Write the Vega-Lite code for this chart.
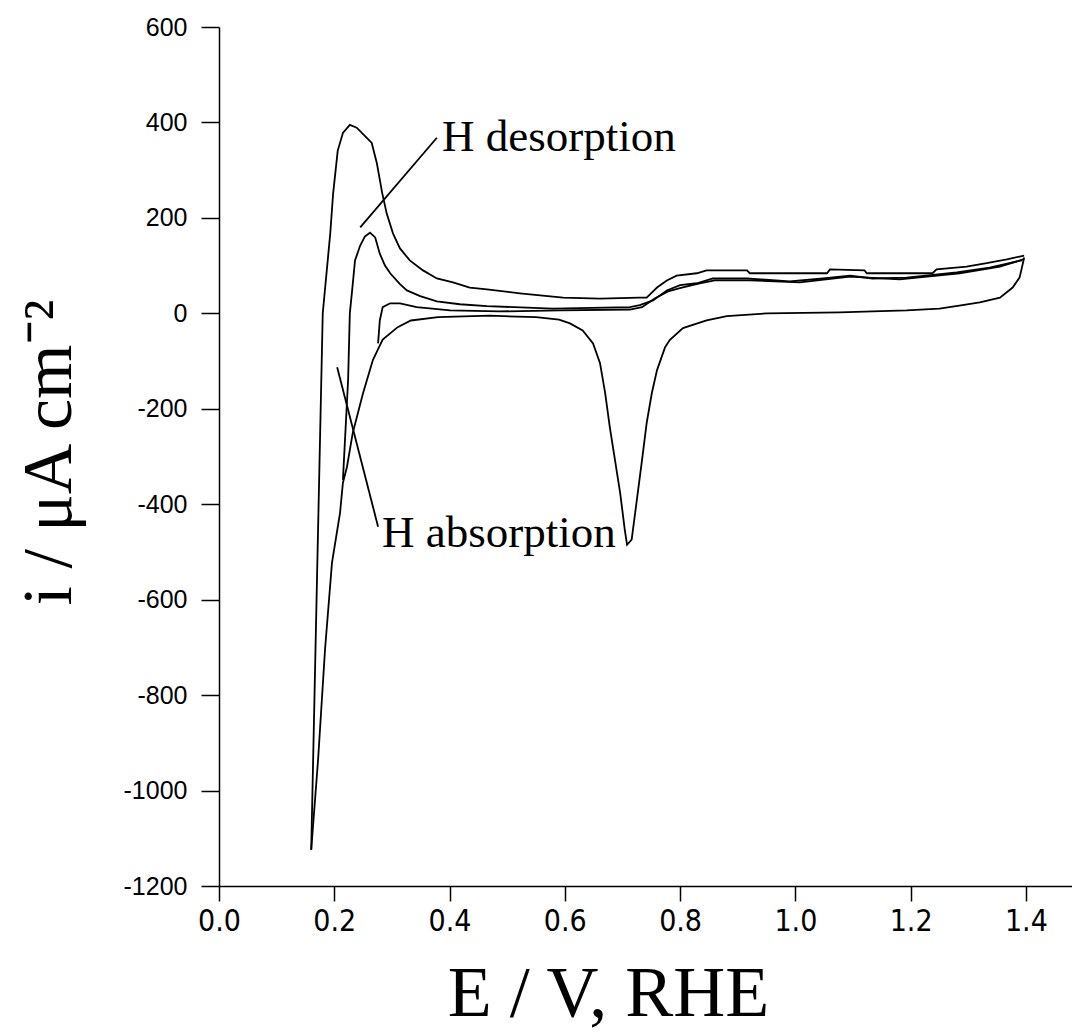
{
  "$schema": "https://vega.github.io/schema/vega-lite/v6.json",
  "width": 853,
  "height": 859,
  "autosize": "none",
  "padding": {"left": 219, "top": 27, "right": 0, "bottom": 147},
  "background": "white",
  "config": {"view": {"stroke": null}},
  "datasets": {
    "cv": [
      {"s": "cath", "i": 0, "E": 1.397, "j": 117},
      {"s": "cath", "i": 1, "E": 1.392, "j": 90},
      {"s": "cath", "i": 2, "E": 1.389, "j": 75},
      {"s": "cath", "i": 3, "E": 1.377, "j": 54},
      {"s": "cath", "i": 4, "E": 1.355, "j": 33},
      {"s": "cath", "i": 5, "E": 1.32, "j": 23},
      {"s": "cath", "i": 6, "E": 1.29, "j": 17},
      {"s": "cath", "i": 7, "E": 1.25, "j": 10},
      {"s": "cath", "i": 8, "E": 1.193, "j": 6},
      {"s": "cath", "i": 9, "E": 1.134, "j": 4},
      {"s": "cath", "i": 10, "E": 1.077, "j": 2},
      {"s": "cath", "i": 11, "E": 0.951, "j": 0},
      {"s": "cath", "i": 12, "E": 0.881, "j": -6},
      {"s": "cath", "i": 13, "E": 0.846, "j": -15},
      {"s": "cath", "i": 14, "E": 0.805, "j": -31},
      {"s": "cath", "i": 15, "E": 0.782, "j": -56},
      {"s": "cath", "i": 16, "E": 0.774, "j": -71},
      {"s": "cath", "i": 17, "E": 0.76, "j": -119},
      {"s": "cath", "i": 18, "E": 0.751, "j": -167},
      {"s": "cath", "i": 19, "E": 0.742, "j": -230},
      {"s": "cath", "i": 20, "E": 0.734, "j": -307},
      {"s": "cath", "i": 21, "E": 0.725, "j": -391},
      {"s": "cath", "i": 22, "E": 0.716, "j": -474},
      {"s": "cath", "i": 23, "E": 0.708, "j": -485},
      {"s": "cath", "i": 24, "E": 0.704, "j": -453},
      {"s": "cath", "i": 25, "E": 0.696, "j": -376},
      {"s": "cath", "i": 26, "E": 0.687, "j": -307},
      {"s": "cath", "i": 27, "E": 0.678, "j": -238},
      {"s": "cath", "i": 28, "E": 0.67, "j": -167},
      {"s": "cath", "i": 29, "E": 0.661, "j": -104},
      {"s": "cath", "i": 30, "E": 0.649, "j": -63},
      {"s": "cath", "i": 31, "E": 0.631, "j": -36},
      {"s": "cath", "i": 32, "E": 0.609, "j": -21},
      {"s": "cath", "i": 33, "E": 0.59, "j": -13},
      {"s": "cath", "i": 34, "E": 0.55, "j": -8},
      {"s": "cath", "i": 35, "E": 0.47, "j": -5},
      {"s": "cath", "i": 36, "E": 0.38, "j": -8},
      {"s": "cath", "i": 37, "E": 0.333, "j": -15},
      {"s": "cath", "i": 38, "E": 0.31, "j": -29},
      {"s": "cath", "i": 39, "E": 0.284, "j": -55},
      {"s": "cath", "i": 40, "E": 0.276, "j": -75},
      {"s": "cath", "i": 41, "E": 0.267, "j": -98},
      {"s": "cath", "i": 42, "E": 0.25, "j": -167},
      {"s": "cath", "i": 43, "E": 0.232, "j": -251},
      {"s": "cath", "i": 44, "E": 0.222, "j": -322},
      {"s": "cath", "i": 45, "E": 0.215, "j": -355},
      {"s": "cath", "i": 46, "E": 0.21, "j": -418},
      {"s": "cath", "i": 47, "E": 0.196, "j": -523},
      {"s": "cath", "i": 48, "E": 0.184, "j": -704},
      {"s": "cath", "i": 49, "E": 0.172, "j": -934},
      {"s": "cath", "i": 50, "E": 0.16, "j": -1124},

      {"s": "A", "i": 0, "E": 0.16, "j": -1124},
      {"s": "A", "i": 1, "E": 0.17, "j": -558},
      {"s": "A", "i": 2, "E": 0.18, "j": 0},
      {"s": "A", "i": 3, "E": 0.193, "j": 167},
      {"s": "A", "i": 4, "E": 0.198, "j": 251},
      {"s": "A", "i": 5, "E": 0.206, "j": 341},
      {"s": "A", "i": 6, "E": 0.215, "j": 378},
      {"s": "A", "i": 7, "E": 0.227, "j": 395},
      {"s": "A", "i": 8, "E": 0.239, "j": 389},
      {"s": "A", "i": 9, "E": 0.253, "j": 372},
      {"s": "A", "i": 10, "E": 0.265, "j": 357},
      {"s": "A", "i": 11, "E": 0.274, "j": 314},
      {"s": "A", "i": 12, "E": 0.283, "j": 253},
      {"s": "A", "i": 13, "E": 0.291, "j": 209},
      {"s": "A", "i": 14, "E": 0.302, "j": 167},
      {"s": "A", "i": 15, "E": 0.314, "j": 136},
      {"s": "A", "i": 16, "E": 0.331, "j": 111},
      {"s": "A", "i": 17, "E": 0.354, "j": 90},
      {"s": "A", "i": 18, "E": 0.378, "j": 73},
      {"s": "A", "i": 19, "E": 0.406, "j": 65},
      {"s": "A", "i": 20, "E": 0.435, "j": 54},
      {"s": "A", "i": 21, "E": 0.465, "j": 50},
      {"s": "A", "i": 22, "E": 0.522, "j": 42},
      {"s": "A", "i": 23, "E": 0.597, "j": 33},
      {"s": "A", "i": 24, "E": 0.661, "j": 31},
      {"s": "A", "i": 25, "E": 0.73, "j": 33},
      {"s": "A", "i": 26, "E": 0.742, "j": 33},
      {"s": "A", "i": 27, "E": 0.76, "j": 54},
      {"s": "A", "i": 28, "E": 0.777, "j": 69},
      {"s": "A", "i": 29, "E": 0.794, "j": 79},
      {"s": "A", "i": 30, "E": 0.829, "j": 84},
      {"s": "A", "i": 31, "E": 0.846, "j": 90},
      {"s": "A", "i": 32, "E": 0.916, "j": 90},
      {"s": "A", "i": 33, "E": 0.921, "j": 84},
      {"s": "A", "i": 34, "E": 1.055, "j": 84},
      {"s": "A", "i": 35, "E": 1.06, "j": 92},
      {"s": "A", "i": 36, "E": 1.12, "j": 90},
      {"s": "A", "i": 37, "E": 1.124, "j": 84},
      {"s": "A", "i": 38, "E": 1.238, "j": 84},
      {"s": "A", "i": 39, "E": 1.245, "j": 92},
      {"s": "A", "i": 40, "E": 1.297, "j": 98},
      {"s": "A", "i": 41, "E": 1.332, "j": 105},
      {"s": "A", "i": 42, "E": 1.367, "j": 113},
      {"s": "A", "i": 43, "E": 1.397, "j": 121},

      {"s": "B", "i": 0, "E": 0.215, "j": -349},
      {"s": "B", "i": 1, "E": 0.224, "j": -140},
      {"s": "B", "i": 2, "E": 0.227, "j": 0},
      {"s": "B", "i": 3, "E": 0.231, "j": 48},
      {"s": "B", "i": 4, "E": 0.236, "j": 111},
      {"s": "B", "i": 5, "E": 0.245, "j": 142},
      {"s": "B", "i": 6, "E": 0.253, "j": 161},
      {"s": "B", "i": 7, "E": 0.262, "j": 169},
      {"s": "B", "i": 8, "E": 0.271, "j": 159},
      {"s": "B", "i": 9, "E": 0.279, "j": 125},
      {"s": "B", "i": 10, "E": 0.288, "j": 100},
      {"s": "B", "i": 11, "E": 0.297, "j": 84},
      {"s": "B", "i": 12, "E": 0.314, "j": 61},
      {"s": "B", "i": 13, "E": 0.326, "j": 48},
      {"s": "B", "i": 14, "E": 0.349, "j": 36},
      {"s": "B", "i": 15, "E": 0.378, "j": 25},
      {"s": "B", "i": 16, "E": 0.418, "j": 19},
      {"s": "B", "i": 17, "E": 0.465, "j": 15},
      {"s": "B", "i": 18, "E": 0.579, "j": 10},
      {"s": "B", "i": 19, "E": 0.713, "j": 13},
      {"s": "B", "i": 20, "E": 0.73, "j": 17},
      {"s": "B", "i": 21, "E": 0.753, "j": 27},
      {"s": "B", "i": 22, "E": 0.777, "j": 48},
      {"s": "B", "i": 23, "E": 0.8, "j": 59},
      {"s": "B", "i": 24, "E": 0.829, "j": 63},
      {"s": "B", "i": 25, "E": 0.857, "j": 73},
      {"s": "B", "i": 26, "E": 0.916, "j": 73},
      {"s": "B", "i": 27, "E": 0.99, "j": 67},
      {"s": "B", "i": 28, "E": 1.048, "j": 73},
      {"s": "B", "i": 29, "E": 1.095, "j": 79},
      {"s": "B", "i": 30, "E": 1.134, "j": 73},
      {"s": "B", "i": 31, "E": 1.193, "j": 75},
      {"s": "B", "i": 32, "E": 1.28, "j": 86},
      {"s": "B", "i": 33, "E": 1.337, "j": 96},
      {"s": "B", "i": 34, "E": 1.393, "j": 111},

      {"s": "C", "i": 0, "E": 0.276, "j": -63},
      {"s": "C", "i": 1, "E": 0.279, "j": -15},
      {"s": "C", "i": 2, "E": 0.284, "j": 13},
      {"s": "C", "i": 3, "E": 0.297, "j": 21},
      {"s": "C", "i": 4, "E": 0.314, "j": 21},
      {"s": "C", "i": 5, "E": 0.343, "j": 13},
      {"s": "C", "i": 6, "E": 0.401, "j": 6},
      {"s": "C", "i": 7, "E": 0.487, "j": 4},
      {"s": "C", "i": 8, "E": 0.592, "j": 6},
      {"s": "C", "i": 9, "E": 0.713, "j": 8},
      {"s": "C", "i": 10, "E": 0.734, "j": 13},
      {"s": "C", "i": 11, "E": 0.756, "j": 31},
      {"s": "C", "i": 12, "E": 0.779, "j": 46},
      {"s": "C", "i": 13, "E": 0.803, "j": 54},
      {"s": "C", "i": 14, "E": 0.834, "j": 63},
      {"s": "C", "i": 15, "E": 0.86, "j": 69},
      {"s": "C", "i": 16, "E": 0.921, "j": 69},
      {"s": "C", "i": 17, "E": 1.008, "j": 65},
      {"s": "C", "i": 18, "E": 1.095, "j": 77},
      {"s": "C", "i": 19, "E": 1.181, "j": 71},
      {"s": "C", "i": 20, "E": 1.285, "j": 84},
      {"s": "C", "i": 21, "E": 1.355, "j": 98},
      {"s": "C", "i": 22, "E": 1.395, "j": 113}
    ],
    "leaders": [
      {"E": 0.245, "j": 180, "E2": 0.378, "j2": 368},
      {"E": 0.205, "j": -113, "E2": 0.276, "j2": -447}
    ],
    "labels": [
      {"E": 0.387, "j": 341, "t": "H  desorption"},
      {"E": 0.283, "j": -489, "t": "H  absorption"}
    ]
  },
  "layer": [
    {
      "mark": {"type": "rule", "color": "black", "strokeWidth": 1.5},
      "encoding": {"y": {"datum": 600, "type": "quantitative", "scale": {"domain": [-1200, 600]}}}
    },
    {
      "mark": {"type": "rule", "color": "black", "strokeWidth": 1.5, "strokeDash": [2, 5]},
      "encoding": {"y": {"datum": 0, "type": "quantitative"}}
    },
    {
      "data": {"name": "cv"},
      "mark": {"type": "line", "color": "black", "strokeWidth": 1.8, "interpolate": "linear"},
      "encoding": {
        "x": {
          "field": "E", "type": "quantitative",
          "scale": {"domain": [0, 1.48], "nice": false, "zero": false},
          "axis": {
            "values": [0, 0.2, 0.4, 0.6, 0.8, 1.0, 1.2, 1.4],
            "labelExpr": "format(datum.value, '.1f')",
            "labelFlush": false,
            "title": "E / V, RHE",
            "titleFont": "Liberation Serif",
            "titleFontSize": 72,
            "titleFontWeight": "normal",
            "titleColor": "black",
            "titleX": 389,
            "titleY": 107,
            "titleBaseline": "middle",
            "titleAlign": "center",
            "labelFont": "Liberation Sans Narrow, DejaVu Sans Condensed, Liberation Sans",
            "labelFontSize": 30,
            "labelColor": "black",
            "labelPadding": 5,
            "tickSize": 15,
            "tickColor": "black",
            "tickWidth": 1.5,
            "domainColor": "black",
            "domainWidth": 1.5,
            "grid": false
          }
        },
        "y": {
          "field": "j", "type": "quantitative",
          "scale": {"domain": [-1200, 600], "nice": false},
          "axis": {
            "values": [-1200, -1000, -800, -600, -400, -200, 0, 200, 400, 600],
            "labelExpr": "'' + datum.value",
            "labelFlush": false,
            "title": "i / μA cm⁻²",
            "titleFont": "Liberation Serif",
            "titleFontSize": 70,
            "titleFontWeight": "normal",
            "titleColor": "black",
            "titleX": -170,
            "titleY": 425,
            "titleAngle": -90,
            "titleBaseline": "middle",
            "titleAlign": "center",
            "labelFont": "Liberation Sans",
            "labelFontSize": 25,
            "labelColor": "black",
            "labelPadding": 14,
            "tickSize": 18,
            "tickColor": "black",
            "tickWidth": 1.5,
            "domainColor": "black",
            "domainWidth": 1.5,
            "grid": false
          }
        },
        "detail": {"field": "s"},
        "order": {"field": "i", "type": "quantitative"}
      }
    },
    {
      "data": {"name": "leaders"},
      "mark": {"type": "rule", "color": "black", "strokeWidth": 1.8},
      "encoding": {
        "x": {"field": "E", "type": "quantitative"},
        "y": {"field": "j", "type": "quantitative"},
        "x2": {"field": "E2"},
        "y2": {"field": "j2"}
      }
    },
    {
      "data": {"name": "labels"},
      "mark": {"type": "text", "font": "Liberation Serif", "fontSize": 45, "align": "left", "baseline": "alphabetic", "color": "black"},
      "encoding": {
        "x": {"field": "E", "type": "quantitative"},
        "y": {"field": "j", "type": "quantitative"},
        "text": {"field": "t"}
      }
    }
  ]
}
